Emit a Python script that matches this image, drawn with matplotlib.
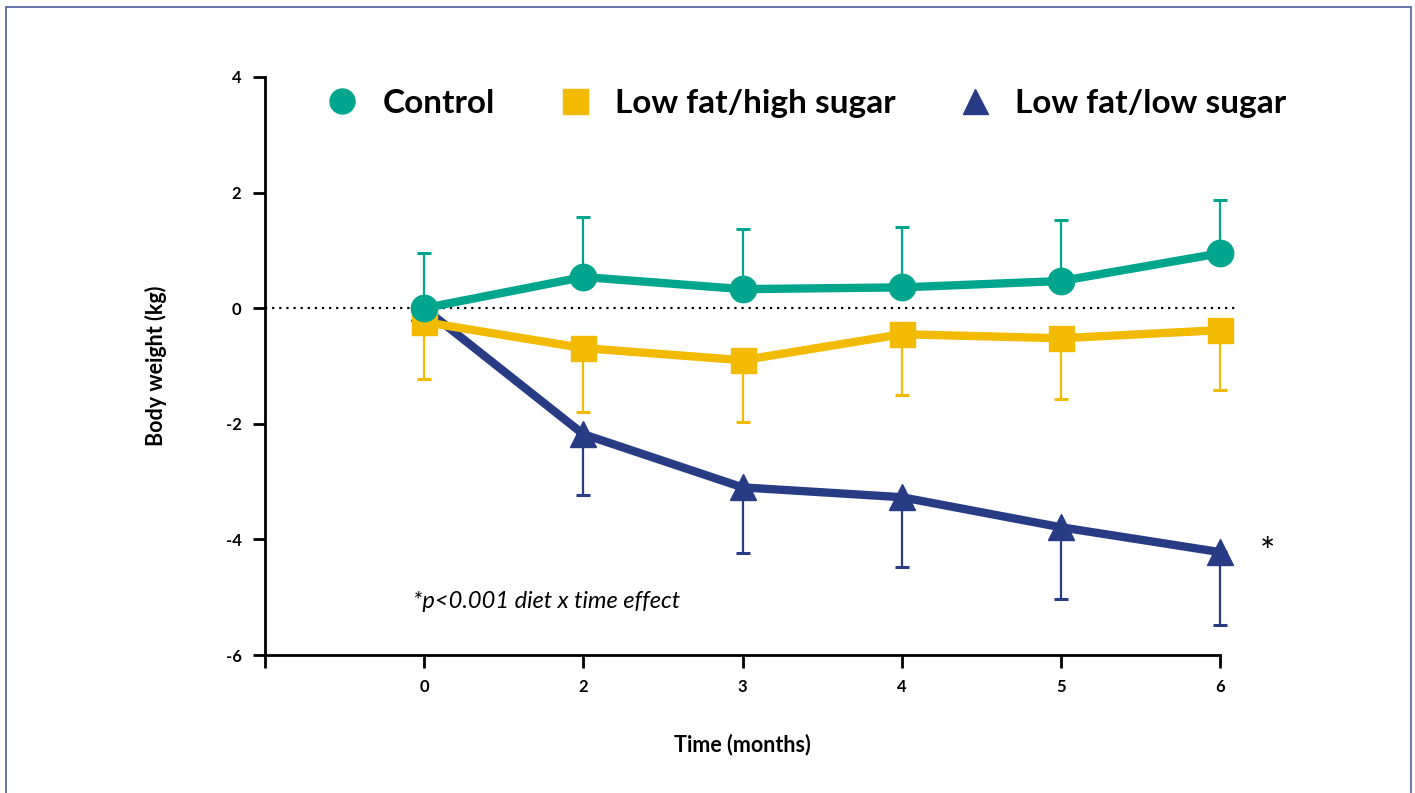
import matplotlib.pyplot as plt
from matplotlib.lines import Line2D
from matplotlib.patches import Rectangle

months = ["0", "2", "3", "4", "5", "6"]

control = [0.0, 0.54, 0.33, 0.36, 0.47, 0.95]
control_err = [0.95, 1.03, 1.04, 1.04, 1.05, 0.92]

high_sugar = [-0.24, -0.69, -0.90, -0.45, -0.52, -0.38]
high_sugar_err = [0.99, 1.11, 1.07, 1.05, 1.05, 1.04]

low_sugar = [0.0, -2.18, -3.10, -3.27, -3.79, -4.22]
low_sugar_err = [0.0, 1.06, 1.14, 1.21, 1.24, 1.26]

teal = "#00a58e"
yellow = "#f2ba00"
navy = "#283b85"

plt.rcParams["font.family"] = ["Lato", "DejaVu Sans"]

fig = plt.figure(figsize=(14.15, 7.93), dpi=100)
ax = fig.add_axes([265 / 1415, 138 / 793, 955 / 1415, 578 / 793])

# thin frame round the whole figure
fig.patches.append(Rectangle((6 / 1415, -0.05), 1405 / 1415, 1.05 - 7 / 793,
                             transform=fig.transFigure, fill=False,
                             edgecolor="#5b6aa8", lw=1.3))

x = list(range(1, len(months) + 1))

ax.plot([0, 6.1], [0, 0], ls=(0, (1, 2.2)), color="black", lw=1.6, clip_on=False, zorder=1)

series = [
    (control, control_err, "o", teal, "Control", "up"),
    (high_sugar, high_sugar_err, "s", yellow, "Low fat/high sugar", "down"),
    (low_sugar, low_sugar_err, "^", navy, "Low fat/low sugar", "down"),
]

for vals, err, mk, col, name, side in series:
    lower = err if side == "down" else [0] * len(err)
    upper = err if side == "up" else [0] * len(err)
    eb = ax.errorbar(x, vals, yerr=[lower, upper], fmt="none", ecolor=col,
                     elinewidth=1.6, capsize=5, capthick=2.2, zorder=2)
    for art in eb.lines[1] + eb.lines[2]:
        art.set_clip_on(False)
ax.plot(x, low_sugar, color=navy, lw=6, marker="^", ms=19, clip_on=False, zorder=3)
ax.plot(x, high_sugar, color=yellow, lw=6, marker="s", ms=18, clip_on=False, zorder=4)
ax.plot(x, control, color=teal, lw=6, marker="o", ms=19, clip_on=False, zorder=5)

ax.set_xlim(0, 6)
ax.set_ylim(-6, 4)
ax.set_xticks([0] + x)
ax.set_xticklabels([""] + months)
ax.set_yticks([-6, -4, -2, 0, 2, 4])
ax.set_yticklabels(["-6", "-4", "-2", "0", "2", "4"])
ax.tick_params(axis="both", length=9, width=2, labelsize=12, pad=8)
for lab in ax.get_xticklabels() + ax.get_yticklabels():
    lab.set_fontweight("bold")

for s in ["top", "right"]:
    ax.spines[s].set_visible(False)
for s in ["left", "bottom"]:
    ax.spines[s].set_linewidth(2)

ax.set_xlabel("Time (months)", fontsize=15.5, fontweight="bold", labelpad=28)
ax.set_ylabel("Body weight (kg)", fontsize=15.5, fontweight="bold", labelpad=42)

handles = [Line2D([], [], ls="none", marker=mk, color=col, ms=18)
           for _, _, mk, col, _, _ in series]
labels = [s[4] for s in series]
leg = ax.legend(handles, labels, ncol=3, loc="center", bbox_to_anchor=(0.558, 0.955),
                frameon=False, handletextpad=0.2, columnspacing=1.4,
                prop={"size": 24, "weight": "bold"})

ax.text(0.93, -5.07, "*p<0.001 diet x time effect", fontsize=17, style="italic",
        va="center", ha="left")
ax.text(6.3, -4.25, "*", fontsize=26, va="center", ha="center")

fig.savefig("out.png", dpi=100)
